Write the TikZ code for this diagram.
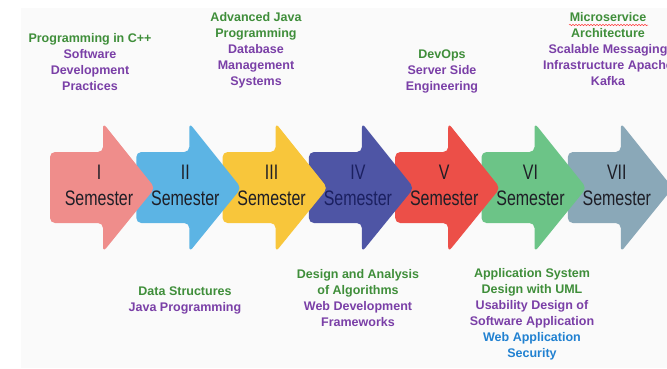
\documentclass[tikz,border=0pt]{standalone}
\usepackage{fontspec}
\setmainfont{Liberation Sans}
\usepackage{xcolor}
\usepackage{graphicx}
\usetikzlibrary{decorations.pathmorphing}

\definecolor{semI}{HTML}{EF8D8B}
\definecolor{semII}{HTML}{5CB4E4}
\definecolor{semIII}{HTML}{F8C63B}
\definecolor{semIV}{HTML}{4E55A5}
\definecolor{semV}{HTML}{EC4F48}
\definecolor{semVI}{HTML}{6CC487}
\definecolor{semVII}{HTML}{8AA8B8}
\definecolor{semInk}{HTML}{1E1E26}
\definecolor{semInkIV}{HTML}{1B2060}
\definecolor{courseGreen}{HTML}{3F8E3A}
\definecolor{coursePurple}{HTML}{7A3FA7}
\definecolor{courseBlue}{HTML}{2181D1}
\definecolor{panel}{HTML}{FAFAFA}

\newcommand{\semlabel}[1]{\scalebox{0.76}[1]{#1}}

\begin{document}
\begin{tikzpicture}[x=1pt,y=-1pt,
    course/.style={align=center,font=\bfseries\fontsize{12.5}{16}\selectfont},
    semtext/.style={align=center,inner sep=0pt,font=\fontsize{21}{26}\selectfont}]
  \useasboundingbox (0,0) rectangle (667,368);
  \fill[panel] (21,8) rectangle (667,368);

  % arrows from the last one back, so each tip lies over the next body
  \foreach \i/\num/\col/\ink in {6/VII/semVII/semInk,5/VI/semVI/semInk,4/V/semV/semInk,
      3/IV/semIV/semInkIV,2/III/semIII/semInk,1/II/semII/semInk,0/I/semI/semInk}{
    \pgfmathsetmacro{\L}{50+86.3*\i}
    \fill[\col,rounded corners=5pt] (\L,152) -- (\L+53,152) -- (\L+53,123)
      -- (\L+105,188) -- (\L+53,252) -- (\L+53,223) -- (\L,223) -- cycle;
    \node[semtext,text=\ink] (sem\i) at (\L+49,185)
      {\semlabel{\num}\\\semlabel{Semester}};
  }

  % courses above the arrows
  \node[course] (top1) at (90,62) {\textcolor{courseGreen}{Programming in C++}\\
    \textcolor{coursePurple}{Software}\\ \textcolor{coursePurple}{Development}\\
    \textcolor{coursePurple}{Practices}};
  \node[course] (top3) at (256,50) {\textcolor{courseGreen}{Advanced Java}\\
    \textcolor{courseGreen}{Programming}\\ \textcolor{coursePurple}{Database}\\
    \textcolor{coursePurple}{Management}\\ \textcolor{coursePurple}{Systems}};
  \node[course] (top5) at (442,71) {\textcolor{courseGreen}{DevOps}\\
    \textcolor{coursePurple}{Server Side}\\ \textcolor{coursePurple}{Engineering}};
  \node[course] (top7) at (608,49) {\textcolor{courseGreen}{Microservice}\\
    \textcolor{courseGreen}{Architecture}\\ \textcolor{coursePurple}{Scalable Messaging}\\
    \textcolor{coursePurple}{Infrastructure Apache}\\ \textcolor{coursePurple}{Kafka}};
  \draw[red!75,line width=0.5pt,decorate,decoration={snake,amplitude=0.7pt,segment length=3pt}]
    (569,25) -- (648,25);

  % courses below the arrows
  \node[course] (bot2) at (185,300) {\textcolor{courseGreen}{Data Structures}\\
    \textcolor{coursePurple}{Java Programming}};
  \node[course] (bot4) at (358,298) {\textcolor{courseGreen}{Design and Analysis}\\
    \textcolor{courseGreen}{of Algorithms}\\ \textcolor{coursePurple}{Web Development}\\
    \textcolor{coursePurple}{Frameworks}};
  \node[course] (bot6) at (532,314) {\textcolor{courseGreen}{Application System}\\
    \textcolor{courseGreen}{Design with UML}\\ \textcolor{coursePurple}{Usability Design of}\\
    \textcolor{coursePurple}{Software Application}\\ \textcolor{courseBlue}{Web Application}\\
    \textcolor{courseBlue}{Security}};
\end{tikzpicture}
\end{document}
